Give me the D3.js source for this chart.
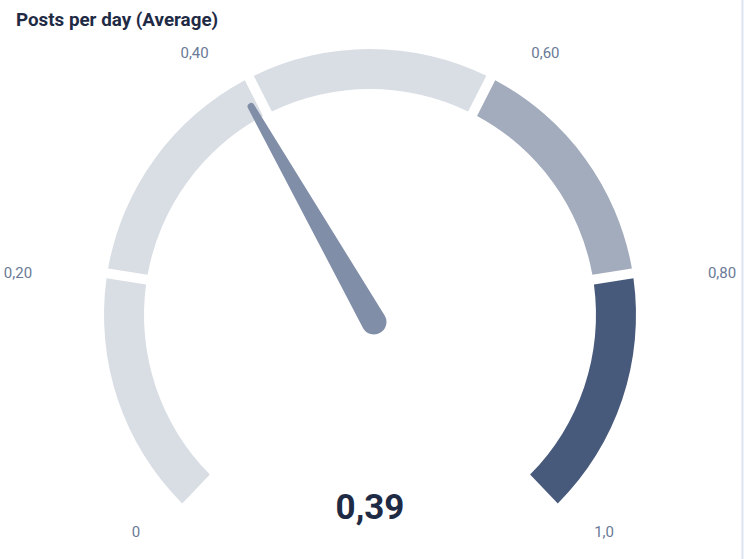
<!DOCTYPE html>
<html>
<head>
<meta charset="utf-8">
<script src="https://cdn.jsdelivr.net/npm/d3@7"></script>
<style>
  html, body { margin: 0; padding: 0; background: #ffffff; }
  svg { display: block; font-family: Roboto, "Noto Sans", sans-serif; }
</style>
</head>
<body>
<div id="chart"></div>
<script>
"use strict";
// Data
var chartTitle = "Posts per day (Average)";
var bandStops = [0, 0.2, 0.4, 0.6, 0.8, 1.0];
var tickValues = [0, 0.2, 0.4, 0.6, 0.8, 1.0];
var tickLabels = ["0", "0,20", "0,40", "0,60", "0,80", "1,0"];
var currentValue = 0.39;
var valueLabel = "0,39";

// Styles
var bandFill = ["#d9dee5", "#d9dee5", "#d9dee5", "#a3acbd", "#485a7b"];
var width = 744, height = 559;
var center = { x: 370, y: 315 };
var outerR = 266, innerR = 226;
var gapPx = 10;

var svg = d3.select("#chart").append("svg")
    .attr("width", width)
    .attr("height", height);

// right card border
svg.append("line")
    .attr("x1", 742.5).attr("x2", 742.5)
    .attr("y1", 0).attr("y2", height)
    .attr("stroke", "#dfe4f2")
    .attr("stroke-width", 2);

svg.append("text")
    .attr("x", 16)
    .attr("y", 26)
    .attr("fill", "#1f2b45")
    .attr("font-size", "18.8px")
    .attr("font-weight", 700)
    .text(chartTitle);

// angle scale in degrees, 0 = 12 o'clock, clockwise
var angle = d3.scaleLinear().domain([0, 1]).range([-135, 135]);
var rad = function (v) { return angle(v) * Math.PI / 180; };

var g = svg.append("g")
    .attr("transform", "translate(" + center.x + "," + center.y + ")");

var padR = (outerR + innerR) / 2;
var padA = gapPx / padR;
var arc = d3.arc()
    .innerRadius(innerR)
    .outerRadius(outerR)
    .padRadius(padR)
    .padAngle(padA);

var bands = d3.pairs(bandStops).map(function (p, i) {
    return {
        startAngle: rad(p[0]) - (i === 0 ? padA / 2 : 0),
        endAngle: rad(p[1]) + (i === bandStops.length - 2 ? padA / 2 : 0),
        fill: bandFill[i]
    };
});

g.selectAll("path.band")
    .data(bands)
    .enter().append("path")
    .attr("class", "band")
    .attr("d", arc)
    .attr("fill", function (d) { return d.fill; });

// tick labels, placed outside the band
var labelRx = 331, labelRy = 300, labelPad = 11, labelShift = 5;
g.selectAll("text.tick")
    .data(tickValues)
    .enter().append("text")
    .attr("class", "tick")
    .attr("x", function (d) {
        var s = Math.sin(rad(d)), c = Math.cos(rad(d));
        var side = c < 0 ? 0 : (s < 0 ? -1 : 1);
        return labelRx * s + side * labelPad;
    })
    .attr("y", function (d) { return -labelRy * Math.cos(rad(d)) + labelShift; })
    .attr("dy", "0.35em")
    .attr("text-anchor", function (d) {
        var s = Math.sin(rad(d)), c = Math.cos(rad(d));
        if (c < 0) return "middle";
        return s < 0 ? "end" : "start";
    })
    .attr("fill", "#6a7a96")
    .attr("font-size", "15px")
    .text(function (d, i) { return tickLabels[i]; });

// needle
var baseR = 12.5, baseBack = 8, tipR = 3.5, tipLen = 240;
var needlePath = "M" + (-baseR) + "," + baseBack +
    "L" + (-tipR) + "," + (-tipLen) +
    "A" + tipR + "," + tipR + " 0 0 1 " + tipR + "," + (-tipLen) +
    "L" + baseR + "," + baseBack +
    "A" + baseR + "," + baseR + " 0 0 1 " + (-baseR) + "," + baseBack + "Z";

g.append("path")
    .attr("d", needlePath)
    .attr("fill", "#808ea8")
    .attr("transform", "rotate(" + angle(currentValue) + ")");

svg.append("text")
    .attr("x", center.x)
    .attr("y", 519)
    .attr("text-anchor", "middle")
    .attr("fill", "#1f2b45")
    .attr("font-size", "35px")
    .attr("font-weight", 700)
    .text(valueLabel);
</script>
</body>
</html>
